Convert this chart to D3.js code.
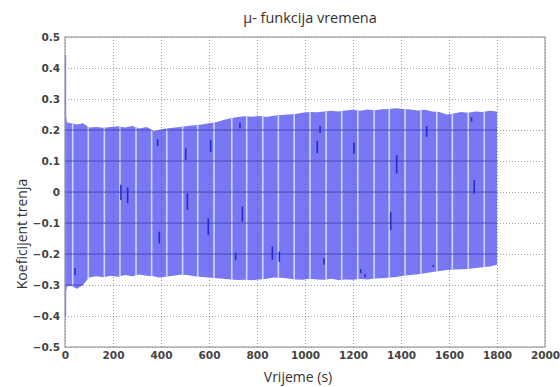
<!DOCTYPE html>
<html>
<head>
<meta charset="utf-8">
<script src="https://cdn.jsdelivr.net/npm/d3@7"></script>
<style>
  body { margin: 0; background: #fff; }
  .tick text { font-family: "DejaVu Sans", sans-serif; font-weight: bold; font-size: 10.5px; fill: #444; }
  .lbl { font-family: "Open Sans", sans-serif; fill: #333; }
</style>
</head>
<body>
<div id="chart"></div>
<script>
// ticks
var xTicks = [0, 200, 400, 600, 800, 1000, 1200, 1400, 1600, 1800, 2000];
var yTicks = [-0.5, -0.4, -0.3, -0.2, -0.1, 0, 0.1, 0.2, 0.3, 0.4, 0.5];

// envelope of the oscillating signal
var envTime  = [0, 8, 25, 50, 75, 100, 130, 160, 190, 220, 250, 280, 310, 340, 370, 390, 420, 450, 480, 510, 540, 570, 600,
                630, 660, 690, 720, 750, 780, 810, 840, 870, 900, 930, 960, 990, 1020, 1050, 1080, 1110, 1140, 1170, 1200,
                1230, 1260, 1290, 1320, 1350, 1380, 1410, 1440, 1470, 1500, 1530, 1560, 1590, 1620, 1650, 1680, 1710, 1740, 1770, 1800];
var envUpper = [0.27, 0.225, 0.222, 0.218, 0.222, 0.208, 0.21, 0.207, 0.21, 0.212, 0.208, 0.213, 0.205, 0.21, 0.197, 0.2, 0.205, 0.207, 0.21, 0.213, 0.215, 0.218, 0.222,
                0.225, 0.232, 0.238, 0.242, 0.244, 0.243, 0.245, 0.242, 0.246, 0.248, 0.25, 0.252, 0.256, 0.258, 0.257, 0.26, 0.262, 0.26, 0.263, 0.265,
                0.262, 0.266, 0.264, 0.267, 0.268, 0.27, 0.268, 0.266, 0.263, 0.265, 0.26, 0.258, 0.25, 0.253, 0.258, 0.256, 0.26, 0.258, 0.262, 0.26];
var envLower = [-0.34, -0.305, -0.303, -0.312, -0.3, -0.276, -0.272, -0.275, -0.27, -0.273, -0.268, -0.272, -0.266, -0.27, -0.272, -0.276, -0.273, -0.27, -0.267, -0.268, -0.272, -0.274, -0.276,
                -0.278, -0.28, -0.282, -0.284, -0.283, -0.285, -0.282, -0.28, -0.276, -0.277, -0.279, -0.282, -0.283, -0.28, -0.282, -0.283, -0.28, -0.284, -0.282, -0.283,
                -0.281, -0.282, -0.279, -0.278, -0.276, -0.274, -0.27, -0.268, -0.265, -0.262, -0.258, -0.255, -0.252, -0.25, -0.249, -0.248, -0.245, -0.243, -0.24, -0.235];

// start transient at t=0
var spikeTop = 0.44, spikeBottom = -0.40;

// pale gaps between test cycles
var gapTime = [32, 97, 164, 229, 296, 361, 424, 490, 553, 621, 695, 757, 824, 889, 955, 1021, 1088,
               1153, 1220, 1288, 1351, 1417, 1483, 1549, 1614, 1680, 1747];

// dark short segments inside the band
var dashTime   = [42, 233, 261, 386, 393, 503, 510, 597, 607, 711, 729, 739, 864, 893, 1051, 1063, 1079, 1204, 1232, 1250, 1357, 1382, 1507, 1535, 1694, 1705];
var dashTop    = [-0.245, 0.023, 0.015, 0.170, -0.128, 0.141, -0.004, -0.085, 0.168, -0.196, 0.223, -0.047, -0.176, -0.192, 0.165, 0.213, -0.214, 0.159, -0.249, -0.265, -0.064, 0.119, 0.213, -0.235, 0.241, 0.039];
var dashBottom = [-0.268, -0.026, -0.036, 0.148, -0.166, 0.103, -0.058, -0.139, 0.130, -0.219, 0.206, -0.096, -0.219, -0.225, 0.125, 0.190, -0.235, 0.123, -0.262, -0.275, -0.123, 0.060, 0.178, -0.242, 0.227, -0.006];

var margin = {top: 37, right: 15, bottom: 40, left: 65},
    width = 560 - margin.left - margin.right,
    height = 387 - margin.top - margin.bottom;

var x = d3.scaleLinear().domain([0, 2000]).range([0, width]),
    y = d3.scaleLinear().domain([-0.5, 0.5]).range([height, 0]);

var svg = d3.select("#chart").append("svg")
    .attr("width", 560)
    .attr("height", 387);

var g = svg.append("g")
    .attr("transform", "translate(" + margin.left + "," + margin.top + ")");

var env = envTime.map(function(t, i) { return {t: t, hi: envUpper[i], lo: envLower[i]}; });

var area = d3.area()
    .x(function(d) { return x(d.t); })
    .y0(function(d) { return y(d.lo); })
    .y1(function(d) { return y(d.hi); });

svg.append("defs").append("clipPath")
    .attr("id", "bandclip")
    .append("path")
    .attr("d", area(env));

// blue band
g.append("path")
    .attr("d", area(env))
    .attr("fill", "#7878f5");

// start spike
g.append("line")
    .attr("x1", x(0) + 0.5).attr("x2", x(0) + 0.5)
    .attr("y1", y(spikeTop)).attr("y2", y(spikeBottom))
    .attr("stroke", "#9d9dfb")
    .attr("stroke-width", 1.5);

var inBand = g.append("g").attr("clip-path", "url(#bandclip)");

// pale gaps
inBand.selectAll("line.gap").data(gapTime).enter().append("line")
    .attr("class", "gap")
    .attr("x1", function(d) { return x(d); })
    .attr("x2", function(d) { return x(d); })
    .attr("y1", y(0.3)).attr("y2", y(-0.35))
    .attr("stroke", "#d2d2fd")
    .attr("stroke-width", 1.6);

// grid lines look solid dark blue where they cross the band
inBand.selectAll("line.hg").data(yTicks).enter().append("line")
    .attr("class", "hg")
    .attr("x1", 0).attr("x2", width)
    .attr("y1", function(d) { return y(d); })
    .attr("y2", function(d) { return y(d); })
    .attr("stroke", "#4040c8")
    .attr("stroke-opacity", 0.8)
    .attr("stroke-width", 1);

// grid via axes
var xAxis = d3.axisBottom(x).tickValues(xTicks).tickSize(-height).tickPadding(5).tickFormat(d3.format("d"));
var yAxis = d3.axisLeft(y).tickValues(yTicks).tickSize(-width).tickPadding(5).tickFormat(function(d) { return d === 0 ? "0" : d3.format(".1f")(d); });

var gx = g.append("g").attr("transform", "translate(0," + height + ")").call(xAxis);
var gy = g.append("g").call(yAxis);
[gx, gy].forEach(function(a) {
    a.select(".domain").remove();
    a.selectAll(".tick line")
        .attr("stroke", "#555")
        .attr("stroke-opacity", 0.55)
        .attr("stroke-dasharray", "1,2");
});

// dark segments
g.append("g").selectAll("line").data(dashTime).enter().append("line")
    .attr("x1", function(d) { return x(d); })
    .attr("x2", function(d) { return x(d); })
    .attr("y1", function(d, i) { return y(dashTop[i]); })
    .attr("y2", function(d, i) { return y(dashBottom[i]); })
    .attr("stroke", "#2a2ac8")
    .attr("stroke-width", 1.6);

// frame
g.append("rect")
    .attr("width", width).attr("height", height)
    .attr("fill", "none")
    .attr("stroke", "#8a8a8a")
    .attr("stroke-width", 1);

// titles
svg.append("text")
    .attr("class", "lbl")
    .attr("x", 310).attr("y", 23)
    .attr("text-anchor", "middle")
    .style("font-size", "14.5px")
    .text("μ- funkcija vremena");

svg.append("text")
    .attr("class", "lbl")
    .attr("x", 298).attr("y", 382)
    .attr("text-anchor", "middle")
    .style("font-size", "14px")
    .text("Vrijeme (s)");

svg.append("text")
    .attr("class", "lbl")
    .attr("transform", "translate(27,234) rotate(-90)")
    .attr("text-anchor", "middle")
    .style("font-size", "14px")
    .text("Koeficijent trenja");
</script>
</body>
</html>
